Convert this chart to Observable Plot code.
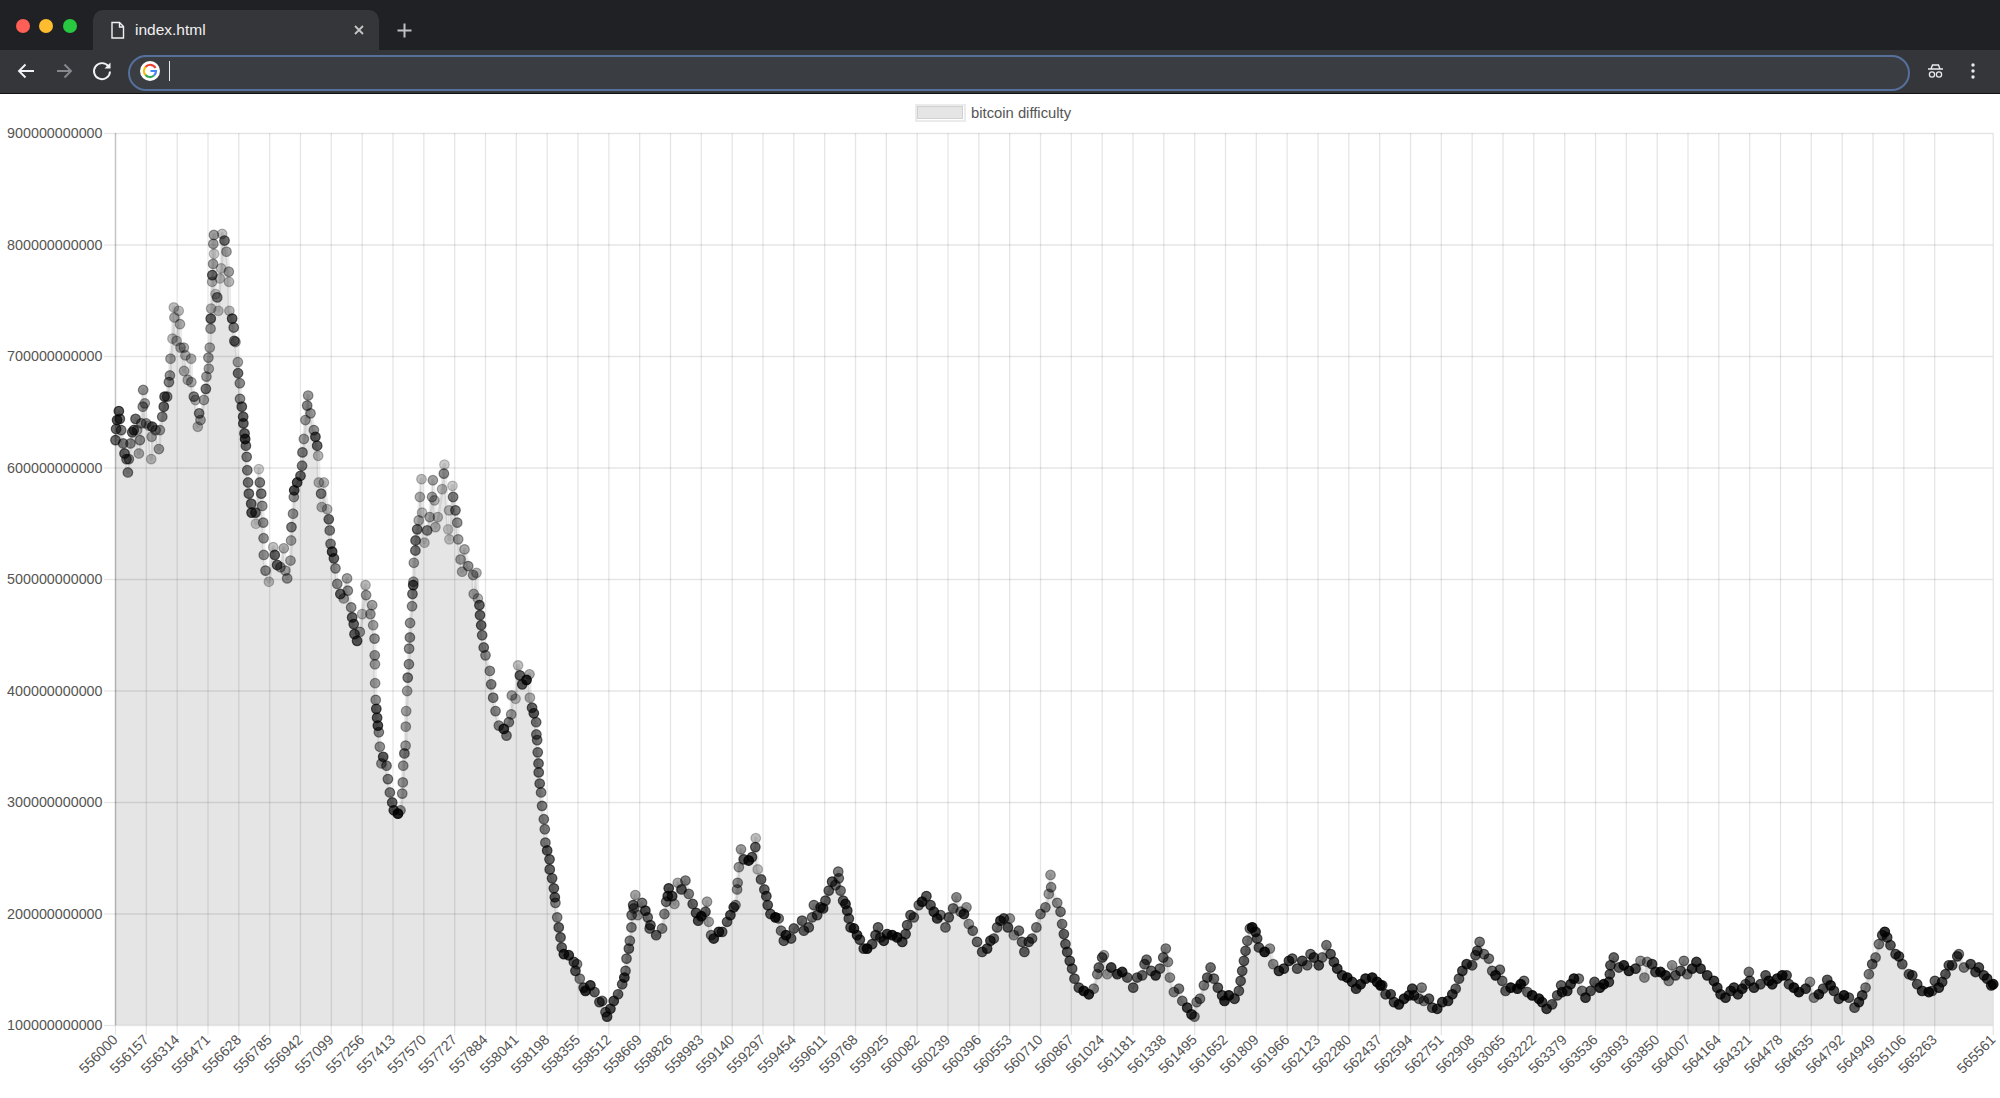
<!DOCTYPE html>
<html><head><meta charset="utf-8"><title>index.html</title>
<script src="https://cdn.jsdelivr.net/npm/d3@7"></script>
<script src="https://cdn.jsdelivr.net/npm/@observablehq/plot@0.6"></script>
<style>
html,body{margin:0;padding:0;background:#fff;overflow:hidden;font-family:"Liberation Sans",Arial,sans-serif}
#chrome{position:relative;height:94px;background:#202124;overflow:hidden}
#toolbar{position:absolute;left:0;right:0;top:50px;height:43px;background:#35363a;border-bottom:1px solid #111}
#tab{position:absolute;left:93px;top:10px;width:286px;height:40px;background:#35363a;border-radius:10px 10px 0 0}
#tabtitle{position:absolute;left:135px;top:20px;color:#f1f1f1;font:15.5px "Liberation Sans",Arial,sans-serif;line-height:20px}
#address{position:absolute;left:128px;top:55px;width:1778px;height:32px;border:2px solid #56709c;border-radius:18px;background:#3a3d41}
#caret{position:absolute;left:169px;top:61px;width:1px;height:20px;background:#e8eaed}
.dot{position:absolute;top:19px;width:14px;height:14px;border-radius:50%}
#chrome svg{position:absolute;left:0;top:0}
#legend{position:relative;height:26px}
#swatch{position:absolute;left:915px;top:10px;width:47px;height:14px;border:2px solid #ebebeb}
#swatch div{width:44px;height:11px;background:#e5e5e5;border:1.5px solid #d0d0d0}
#legendtext{position:absolute;left:971px;top:9px;font:14.8px "Liberation Sans",Arial,sans-serif;line-height:20px;color:#555}
#chart svg{display:block}
</style></head>
<body>
<div id="chrome">
  <div id="toolbar"></div><div id="tab"></div>
  <div class="dot" style="left:15.5px;background:#ff5f57"></div>
  <div class="dot" style="left:39px;background:#febc2e"></div>
  <div class="dot" style="left:63px;background:#28c840"></div>
  <div id="tabtitle">index.html</div>
  <div id="address"></div><div id="caret"></div>
  <svg width="2000" height="94" fill="none">
    <path d="M112 22.5h7.5l4 4v11.5h-11.5z M119.500 22.500v4.500h4" stroke="#f1f1f1" stroke-width="1.400"/>
    <path d="M355 26l8 8M363 26l-8 8" stroke="#c4c7c5" stroke-width="1.800"/>
    <path d="M404.500 23.500v14M397.500 30.500h14" stroke="#bdc1c6" stroke-width="2"/>
    <path d="M34 71H19M25.500 64.500L19 71l6.500 6.500" stroke="#f1f3f4" stroke-width="1.900"/>
    <path d="M71 71H57M64.500 64.500L71 71l-6.500 6.500" stroke="#85888c" stroke-width="1.900"/>
    <path d="M108.500 66.500a8 8 0 1 0 1.500 5" stroke="#f1f3f4" stroke-width="1.900"/>
    <path d="M110.500 62.500v6h-6z" fill="#f1f3f4"/>
    <circle cx="150" cy="71" r="10" fill="#fff"/>
    <path d="M155.500 68A6 6 0 0 0 145.500 67" stroke="#ea4335" stroke-width="2.200"/>
    <path d="M145.500 67A6 6 0 0 0 145.500 75" stroke="#fbbc05" stroke-width="2.200"/>
    <path d="M145.500 75A6 6 0 0 0 154 75.500" stroke="#34a853" stroke-width="2.200"/>
    <path d="M154 75.500A6 6 0 0 0 156 71H150.500" stroke="#4285f4" stroke-width="2.200"/>
    <path d="M1928 69h15M1931 69l1.500-4h6l1.500 4" stroke="#e8eaed" stroke-width="1.400"/>
    <circle cx="1932" cy="74.500" r="2.600" stroke="#e8eaed" stroke-width="1.300"/>
    <circle cx="1939" cy="74.500" r="2.600" stroke="#e8eaed" stroke-width="1.300"/>
    <circle cx="1973" cy="65" r="1.700" fill="#e8eaed"/><circle cx="1973" cy="71" r="1.700" fill="#e8eaed"/><circle cx="1973" cy="77" r="1.700" fill="#e8eaed"/>
  </svg>
</div>
<div id="legend"><div id="swatch"><div></div></div><div id="legendtext">bitcoin difficulty</div></div>
<div id="chart"></div>
<script>
const firstBlock = 556000;
const xTickBlocks = [556000,556157,556314,556471,556628,556785,556942,557099,557256,557413,557570,557727,557884,558041,558198,558355,558512,558669,558826,558983,559140,559297,559454,559611,559768,559925,560082,560239,560396,560553,560710,560867,561024,561181,561338,561495,561652,561809,561966,562123,562280,562437,562594,562751,562908,563065,563222,563379,563536,563693,563850,564007,564164,564321,564478,564635,564792,564949,565106,565263,565561];
const yTickValues = [100e9,200e9,300e9,400e9,500e9,600e9,700e9,800e9,900e9];
const seriesName = "bitcoin difficulty";

// Block offset from the first block, and difficulty in billions.
const blocksEarly = [
0,3,8,17,22,29,39,46,56,63,
68,76,85,93,102,110,119,124,131,139,
141,149,156,170,182,184,187,204,221,226,
238,246,250,263,272,277,280,290,297,300,
311,322,328,331,348,349,356,368,385,386,
399,407,419,426,433,450,460,463,473,475,
480,484,485,487,492,493,497,498,501,502,
509,518,524,531,538,543,555,565,577,578,
580,594,602,605,611,623,624,633,634,643,
650,651,657,660,664,668,671,675,679,691,
693,713,715,730,735,742,747,752,754,755,
764,781,803,811,823,840,857,865,874,891,
894,896,904,908,910,925,942,950,952,959,
967,976,981,993,1010,1018,1027,1032,1035,1047,
1050,1061,1078,1086,1091,1095,1103,1112,1120,1129,
1145,1162,1179,1183,1200,1205,1213,1217,1230,1244,
1256,1273,1276,1298,1307,1312,1319];
const valuesEarly = [
625,635,643,651,644,634,622,613,608,596,
608,622,632,634,644,634,613,625,640,655,
670,658,640,638,608,628,637,634,617,634,
646,655,664,664,677,683,698,716,744,735,
714,741,729,708,708,687,701,679,698,677,
664,661,637,649,643,661,671,682,699,689,
708,725,734,743,767,773,783,801,809,792,
756,753,741,770,779,810,804,794,776,767,
741,734,726,714,713,695,685,676,662,655,
646,640,631,626,620,610,598,587,577,568,
560,560,550,599,587,577,566,551,537,522,
508,498,529,522,513,511,528,508,501,517,
535,547,559,574,580,587,593,602,614,626,
643,656,665,649,634,628,620,611,587,577,
565,587,563,554,544,532,525,519,510,496,
487,483,501,490,475,466,460,451,445,453,
469,495,486,469,477,459,447];

const blocksValley = [
1320,1321,1322,1325,1328,1332,1336,1341,1346,1354,
1363,1380,1387,1397,1409,1417,1438,1451,1460,1463,
1465,1471,1477,1478,1480,1485,1488,1494,1495,1499,
1500,1510,1512,1516,1517,1519,1527,1528,1536,1544,
1550,1558,1561,1573,1587,1600,1612,1616,1624,1629,
1641,1663,1672,1675,1694,1698,1700,1716,1719,1731,
1740,1745,1757,1765,1777,1796,1821,1824,1838,1845,
1853,1856,1862,1867,1875,1884,1906,1913,1923,1935,
1952,1977,1991,2003,2015,2018,2037,2050,2059,2071,
2093,2108,2110,2121,2130,2142,2143,2147,2150,2154,
2155,2160,2167,2172,2181,2186,2189,2198];
const valuesValley = [
432,424,407,392,384,376,369,363,350,335,
341,333,321,309,300,293,290,293,308,318,
333,344,351,368,382,400,412,424,438,448,
461,476,487,495,498,515,526,535,545,553,
574,590,560,533,544,556,574,589,571,547,
556,581,595,603,545,562,536,584,574,562,
551,536,518,507,527,512,504,487,506,483,
477,468,459,450,439,432,418,406,394,382,
369,366,360,372,379,396,393,423,414,406,
410,415,394,385,380,372,361,356,345,335,
327,317,309,297,285,276,264,257];

const blocksFall = [
2210,2211,2223,2232,2237,2240,2249,2257,2266,2272,
2283,2308,2334,2342,2350,2364,2384,2393,2418,2439,
2464,2478,2495,2503,2520,2537,2559,2580,2591,2597,
2602,2614,2619,2627,2628,2636,2639,2647,2659,2681,
2698,2710,2720,2724,2753,2783,2795,2804,2812,2817,
2834,2846,2863,2882,2902,2919,2939,2956,2967,2983,
3004,3012,3021,3033,3046,3072,3089,3114,3131,3148,
3157,3165,3168,3174,3185,3199,3224,3241,3258,3260,
3270,3287,3304,3314,3321,3335,3360,3377,3389,3403,
3414,3440,3454];
const valuesFall = [
249,240,232,223,215,210,197,188,179,170,
164,163,157,149,155,142,134,131,136,130,
121,122,112,108,115,122,128,137,143,149,
160,169,176,188,199,208,205,217,199,210,
203,197,187,190,181,187,200,211,216,223,
216,209,228,222,230,218,209,201,194,198,
202,211,193,181,178,184,184,193,199,206,
208,222,228,242,258,249,248,251,260,268,
240,231,222,216,208,200,197,196,185,176,
181,178,187];

const blocksMiddle = [
3496,3505,3530,3547,3556,3573,3590,3603,3615,3632,
3649,3666,3680,3683,3692,3705,3717,3726,3734,3743,
3760,3776,3790,3810,3827,3853,3870,3883,3895,3912,
3929,3955,3980,4006,4023,4031,4048,4065,4090,4107,
4129,4150,4167,4184,4201,4226,4243,4265,4282,4303,
4320,4333,4345,4365,4387,4413,4438,4455,4472,4489,
4506,4523,4544,4554,4574,4600,4616,4628,4650,4667,
4689,4710,4735,4752,4761,4764,4795,4812,4820,4829,
4837,4846,4859,4871,4883,4905,4930,4956,4981];
const valuesMiddle = [
194,185,188,197,208,199,206,205,212,221,
229,226,238,232,221,212,209,203,196,188,
187,181,177,169,169,173,181,188,179,176,
182,181,179,175,182,190,199,197,208,211,
216,208,202,196,199,188,197,205,215,202,
200,206,191,185,175,166,169,176,178,188,
194,196,188,196,181,185,175,166,175,178,
188,200,206,218,235,224,210,202,191,182,
173,166,158,151,142,134,131,128,133];

const blocksLate = [
4999,5007,5024,5033,5050,5070,5101,5126,5152,5182,
5202,5228,5240,5250,5274,5296,5318,5335,5348,5359,
5369,5389,5415,5432,5457,5479,5494,5505,5522,5542,
5559,5576,5593,5613,5635,5647,5669,5698,5720,5729,
5737,5746,5754,5763,5776,5788,5805,5813,5822,5851,
5878,5895,5924,5949,5975,5992,6017,6043,6068,6085,
6102,6127,6144,6166,6187,6204,6221,6246,6272,6297,
6317,6340,6365,6399,6424,6441,
6450,6467,6493,6510,6535,6561,6586,6603,6612,6637,
6651,6662,6688,6705,6730,6756,6785,6807,6824,6841,
6858,6880,6908,6925,6934,6946,6968,6993,7010,7027,
7049,7061,7078,7104,7138,7155,7172,7189,7214,7248];
const valuesLate = [
146,152,161,163,146,152,146,148,143,134,
143,145,155,159,149,145,151,161,169,157,
143,130,133,122,116,110,108,121,124,136,
143,152,142,134,127,122,127,124,131,140,
149,158,167,176,187,188,184,178,170,166,
169,155,149,151,158,160,151,158,154,164,
161,154,161,172,164,157,151,145,143,139,
133,137,142,143,139,136,
136,128,128,121,119,124,127,133,127,124,
134,122,124,116,115,121,122,128,133,142,
149,155,154,163,167,175,164,160,149,145,
150,140,131,134,133,137,140,130,127,124];

const blocksEnd = [
7264,7287,7315,7341,7361,7366,7392,7409,7426,7451,
7468,7485,7511,7531,7558,7578,7604,7609,7612,7629,
7655,7680,7706,7740,7765,7785,7799,7824,7841,7867,
7892,7909,7926,7943,7969,7986,8003,8028,8050,
8071,8105,8139,8156,8173,8198,8224,8241,8261,8283,
8300,8317,8322,8343,8376,8402,8419,8436,8461,8487,
8509,8521,8546,8572,8606,8628,8648,8673,8695,8716,
8733,8750,8775,8801,8826,8855,8877,8894,8911,8928,
8945,8962,8979,8996,9009,9021,9038,9064,9081,9098,
9132,9149,9174,9199,9233,9250,9264,9284,9301,9318,
9335,9352,9378,9386,9412,9446,9471,9488,9513,9530,
9551,9561];
const valuesEnd = [
121,115,119,127,136,130,131,137,142,142,
131,125,131,139,134,137,139,146,154,161,
152,154,149,151,158,143,157,155,148,148,
145,140,154,145,149,158,146,151,157,
151,145,140,134,128,125,131,134,128,133,
137,148,140,134,137,145,140,137,142,145,
145,137,134,130,133,139,125,128,133,141,
136,131,124,127,125,116,121,127,134,146,
155,161,173,181,184,179,172,164,162,155,
146,145,137,131,130,131,140,134,139,146,
154,154,162,164,152,155,148,152,145,142,
136,137];

const blockOffsets = [...blocksEarly,...blocksValley,...blocksFall,...blocksMiddle,...blocksLate,...blocksEnd];
const billions = [...valuesEarly,...valuesValley,...valuesFall,...valuesMiddle,...valuesLate,...valuesEnd];
const rows = blockOffsets.map((b,i)=>({block:firstBlock+b, difficulty:billions[i]*1e9}))
  .sort((a,b)=>a.block-b.block);

// The dots pile up where the series is flat and stand alone where it jumps.
rows.forEach((r,i)=>{
  const prev = rows[Math.max(i-1,0)], next = rows[Math.min(i+1,rows.length-1)];
  const jump = Math.max(Math.abs(r.difficulty-prev.difficulty),Math.abs(next.difficulty-r.difficulty))/1e9;
  r.ink = Math.min(0.85, 0.2 + 1.0*Math.exp(-jump/10));
});

const gridOpts = {stroke:"#000",strokeOpacity:0.1,strokeWidth:1.3};
const plot = Plot.plot({
  width:2000, height:978,
  marginTop:13, marginBottom:73, marginLeft:115, marginRight:7.3,
  style:{background:"transparent",fontFamily:"'Liberation Sans',Arial,sans-serif",fontSize:"14.3px",color:"#555"},
  x:{type:"linear",domain:[firstBlock,565561]},
  y:{type:"linear",domain:[100e9,900e9]},
  opacity:{type:"identity"},
  marks:[
    Plot.ruleX(xTickBlocks,{x:d=>d,y1:100e9,y2:900e9,...gridOpts}),
    Plot.ruleY(yTickValues,{y:d=>d,x1:firstBlock,x2:565561,...gridOpts}),
    Plot.ruleX([firstBlock],{y1:100e9,y2:900e9,stroke:"#000",strokeOpacity:0.15,strokeWidth:1.6}),
    Plot.areaY(rows,{x:"block",y1:()=>100e9,y2:"difficulty",fill:"#000",fillOpacity:0.1}),
    Plot.line(rows,{x:"block",y:"difficulty",stroke:"#000",strokeOpacity:0.08,strokeWidth:3.8}),
    Plot.dot(rows,{x:"block",y:"difficulty",r:4.8,fill:"#000",fillOpacity:"ink",stroke:"#000",strokeOpacity:"ink",strokeWidth:1.2}),
    Plot.axisY(yTickValues,{tickFormat:d=>String(d),tickSize:11,tickPadding:2,stroke:"#000",strokeOpacity:0.1,strokeWidth:1.3,label:null,fill:"#555"}),
    Plot.axisX(xTickBlocks,{tickFormat:d=>String(d),tickSize:10,tickPadding:2,tickRotate:-45,stroke:"#000",strokeOpacity:0.1,strokeWidth:1.3,label:null,fill:"#555"})
  ]
});
document.getElementById("chart").append(plot);
</script>
</body></html>
